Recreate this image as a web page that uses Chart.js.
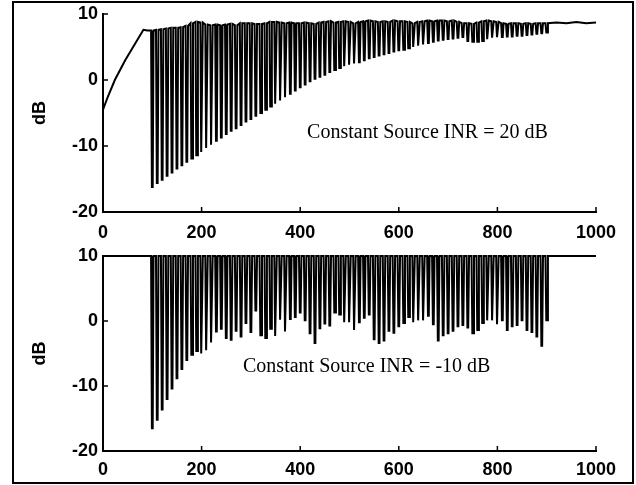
<!DOCTYPE html>
<html>
<head>
<meta charset="utf-8">
<script src="https://cdn.jsdelivr.net/npm/chart.js@4.4.1/dist/chart.umd.min.js"></script>
<style>
  body { margin: 0; background: #fff; }
  #wrap { position: relative; width: 636px; height: 485px; }
  #frame { position: absolute; left: 12px; top: 1px; width: 618px; height: 479px; border: 2px solid #000; }
  canvas { position: absolute; left: 0; }
</style>
</head>
<body>
<div id="wrap">
  <div id="frame"></div>
  <canvas id="top" width="636" height="242" style="top:0"></canvas>
  <canvas id="bot" width="636" height="243" style="top:242px"></canvas>
</div>
<script>
// spike positions (iteration index) shared by both panels
const spikeX = [100,110,120,130,140,150,160,170,180,190,200,210,220,230,240,250,260,270,280,290,
  300,310,320,330,340,350,360,370,380,390,400,410,420,430,440,450,460,470,480,490,
  500,510,520,530,540,550,560,570,580,590,600,610,620,630,640,650,660,670,680,690,
  700,710,720,730,740,750,760,770,780,790,800,810,820,830,840,850,860,870,880,890,900];

// top panel: INR = 20 dB
const topRampX = [0, 10, 24, 45, 65, 82, 90];
const topRampY = [-4.5, -2.5, 0, 3, 5.5, 7.6, 7.5];
const topPeak = [7.5,7.6,7.7,7.8,7.9,7.9,8.0,8.2,8.6,8.8,8.7,8.4,8.3,8.4,8.3,8.4,8.5,8.3,8.6,8.6,
  8.6,8.5,8.5,8.6,8.8,8.8,8.7,8.6,8.7,8.6,8.6,8.7,8.6,8.5,8.7,8.8,8.9,8.7,8.8,8.9,
  8.8,8.6,8.8,8.9,9.0,8.9,8.8,8.9,8.8,9.0,8.9,8.9,8.8,8.6,8.8,8.9,9.0,8.9,9.0,9.0,
  8.9,9.0,8.8,8.6,8.6,8.5,8.7,8.9,9.0,8.9,8.8,8.6,8.5,8.6,8.6,8.5,8.6,8.5,8.6,8.6,8.6];
const topDip = [-16.2,-15.6,-15.1,-14.5,-14.0,-13.4,-12.9,-12.4,-11.9,-11.4,-10.9,-10.3,-9.8,-9.2,-8.7,-8.2,-7.7,-7.3,-6.8,-6.3,
  -5.9,-5.4,-5.0,-4.5,-4.0,-3.6,-3.1,-2.6,-2.1,-1.6,-1.1,-0.7,-0.2,0.2,0.5,0.8,1.2,1.5,1.8,2.1,
  2.3,2.5,2.7,3.0,3.3,3.5,3.7,3.9,4.1,4.3,4.5,4.6,4.8,5.0,5.2,5.4,5.6,5.8,6.0,6.1,
  6.2,6.3,6.4,6.5,5.9,5.8,5.8,5.9,6.2,6.4,6.5,6.5,6.6,6.6,6.7,6.7,6.8,6.9,7.0,7.1,7.2];
const topTailX = [920, 940, 960, 980, 1000];
const topTailY = [8.7, 8.6, 8.8, 8.6, 8.7];

// bottom panel: INR = -10 dB
const botLevel = 10;
const botDip = [-16.5,-15.2,-13.6,-12.0,-10.4,-8.8,-7.4,-6.0,-5.2,-4.6,-5.0,-4.5,-3.3,-1.6,-1.2,-2.6,-2.9,-1.5,-2.4,-0.3,
  -1.7,1.6,-2.2,-2.6,-1.2,-2.3,0.2,-1.6,0.3,0.6,1.3,0.1,-1.9,-3.4,-1.1,-0.4,-0.7,1.3,1.0,-0.2,
  -0.2,-1.4,-0.2,0.5,1.0,-2.8,-3.4,-3.0,-1.5,-1.8,-0.8,-0.3,0.6,-0.2,0.1,0.1,0.8,-0.5,-3.0,-2.2,
  -1.9,-1.5,-0.8,-0.6,-1.0,-1.9,-1.4,-0.3,0.1,0.1,-0.5,0.1,-1.4,-0.8,-0.6,0.1,-1.4,-1.7,-2.4,-3.8,0.1];

const xTicks = [0, 200, 400, 600, 800, 1000];
const yTicks = [-20, -10, 0, 10];

// each spike: drop from the running level to its dip and back
function spikes(peaks, dips) {
  const pts = [];
  spikeX.forEach((x, i) => {
    const p = Array.isArray(peaks) ? peaks[i] : peaks;
    pts.push({x: x - 2.5, y: p}, {x: x - 0.8, y: dips[i]}, {x: x + 0.8, y: dips[i]}, {x: x + 2.5, y: p});
  });
  return pts;
}

const topData = topRampX.map((x, i) => ({x, y: topRampY[i]}))
  .concat(spikes(topPeak, topDip))
  .concat(topTailX.map((x, i) => ({x, y: topTailY[i]})));
const botData = [{x: 0, y: botLevel}].concat(spikes(botLevel, botDip)).concat([{x: 1000, y: botLevel}]);

const decor = {
  id: 'decor',
  afterDatasetsDraw(chart, args, opts) {
    const {ctx, chartArea, scales: {x, y}} = chart;
    ctx.save();
    ctx.strokeStyle = '#000';
    ctx.lineWidth = 1.5;
    ctx.beginPath();
    x.ticks.forEach(t => {
      const px = x.getPixelForValue(t.value);
      ctx.moveTo(px, chartArea.bottom);
      ctx.lineTo(px, chartArea.bottom - 5);
    });
    y.ticks.forEach(t => {
      const py = y.getPixelForValue(t.value);
      ctx.moveTo(chartArea.left, py);
      ctx.lineTo(chartArea.left + 5, py);
    });
    ctx.stroke();
    ctx.fillStyle = '#000';
    ctx.font = '20px "Liberation Serif"';
    ctx.fillText(opts.text, x.getPixelForValue(opts.tx), y.getPixelForValue(opts.ty));
    ctx.font = 'bold 18px "Liberation Sans"';
    ctx.translate(40, (chartArea.top + chartArea.bottom) / 2);
    ctx.rotate(-Math.PI / 2);
    ctx.textAlign = 'center';
    ctx.textBaseline = 'middle';
    ctx.fillText('dB', 0, 0);
    ctx.restore();
  }
};

function makeChart(id, data, text, tx, ty, xh, xpad) {
  return new Chart(document.getElementById(id), {
    type: 'line',
    data: { datasets: [{ data, borderColor: '#000', borderWidth: 2, pointRadius: 0, tension: 0, clip: 4 }] },
    options: {
      responsive: false,
      animation: false,
      devicePixelRatio: 1,
      layout: { padding: { left: 0, right: 40, top: 14, bottom: 0 } },
      plugins: { legend: { display: false }, tooltip: { enabled: false }, decor: { text, tx, ty } },
      scales: {
        x: {
          type: 'linear', min: 0, max: 1000,
          afterBuildTicks: s => { s.ticks = xTicks.map(v => ({value: v})); },
          afterFit: s => { s.height = xh; },
          grid: { display: false },
          border: { display: true, color: '#000', width: 2 },
          ticks: { color: '#000', padding: xpad, maxRotation: 0, font: { family: 'Liberation Sans', size: 18, weight: 'bold' }, callback: v => String(v) }
        },
        y: {
          min: -20, max: 10,
          afterBuildTicks: s => { s.ticks = yTicks.map(v => ({value: v})); },
          afterFit: s => { s.width = 103; },
          grid: { display: false },
          border: { display: true, color: '#000', width: 2 },
          ticks: { color: '#000', padding: -3, font: { family: 'Liberation Sans', size: 18, weight: 'bold' }, callback: v => String(v) }
        }
      }
    },
    plugins: [decor]
  });
}

makeChart('top', topData, 'Constant Source INR = 20 dB', 414, -8.8, 30, 2);
makeChart('bot', botData, 'Constant Source INR = -10 dB', 284, -7.9, 34, 0);
</script>
</body>
</html>
